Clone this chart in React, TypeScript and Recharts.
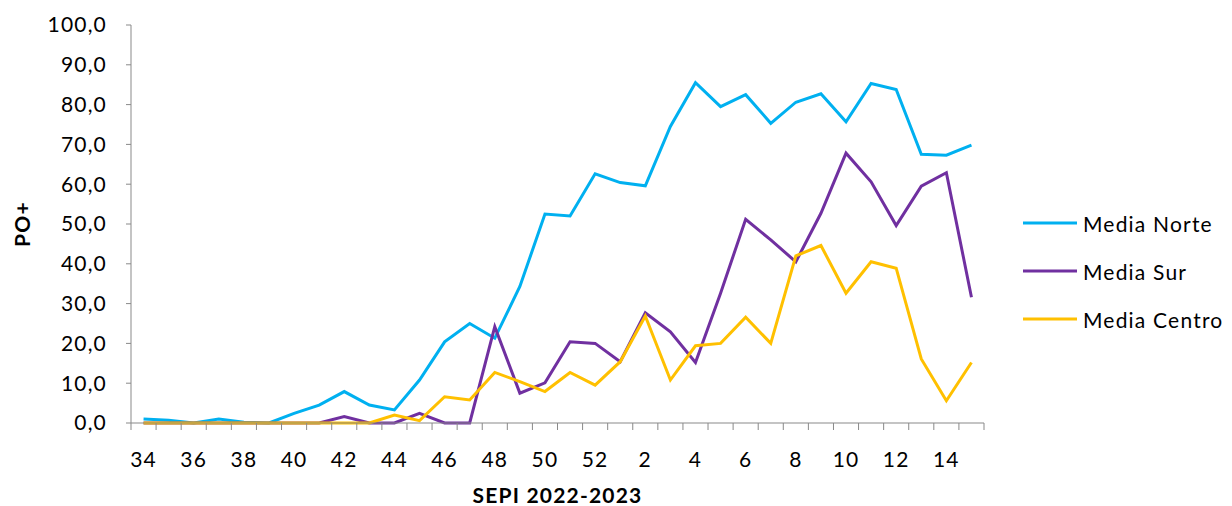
import React from 'react';
import { LineChart, Line, XAxis, YAxis, Legend } from 'recharts';

const weeks = [
  '34', '35', '36', '37', '38', '39', '40', '41', '42', '43', '44', '45', '46', '47', '48', '49', '50', '51', '52',
  '1', '2', '3', '4', '5', '6', '7', '8', '9', '10', '11', '12', '13', '14', '15',
];

const mediaNorte = [
  1.0, 0.7, 0.0, 1.0, 0.2, 0.0, 2.4, 4.5, 7.9, 4.5, 3.3, 10.8, 20.4, 25.0, 21.3, 34.3, 52.5, 52.0, 62.6,
  60.4, 59.6, 74.5, 85.5, 79.5, 82.5, 75.3, 80.6, 82.7, 75.7, 85.3, 83.8, 67.5, 67.3, 69.8,
];

const mediaSur = [
  0.0, 0.0, 0.0, 0.0, 0.0, 0.0, 0.0, 0.0, 1.6, 0.0, 0.0, 2.4, 0.0, 0.0, 24.2, 7.5, 10.1, 20.4, 20.0,
  15.4, 27.7, 22.9, 15.2, 32.6, 51.2, 46.0, 40.5, 52.7, 67.8, 60.6, 49.6, 59.5, 62.9, 31.6,
];

const mediaCentro = [
  0.0, 0.0, 0.0, 0.0, 0.0, 0.0, 0.0, 0.0, 0.0, 0.0, 2.0, 0.6, 6.6, 5.8, 12.7, 10.4, 7.9, 12.7, 9.5,
  15.4, 26.9, 10.8, 19.4, 20.0, 26.6, 20.0, 42.0, 44.6, 32.6, 40.5, 38.9, 16.1, 5.6, 15.2,
];

const yTicks = [0, 10, 20, 30, 40, 50, 60, 70, 80, 90, 100];

const seriesOrder = ['Media Norte', 'Media Sur', 'Media Centro'];

const data = weeks.map((w, i) => ({
  week: w,
  norte: mediaNorte[i],
  sur: mediaSur[i],
  centro: mediaCentro[i],
}));

const FONT = 'Lato, "Open Sans", sans-serif';
const FS = 21;
const LS = 1.2;
const AXIS_COLOR = '#898989';

const CHART_W = 1216;
const CHART_H = 498;
const Y_AXIS_W = 123;
const MARGIN_RIGHT = 240;
const LEGEND_W = 210;
const PLOT_W = CHART_W - Y_AXIS_W - MARGIN_RIGHT;
const HALF_BAND = PLOT_W / weeks.length / 2;

const XTick = (props: any) => {
  const { x, y, payload, index } = props;
  const last = index === weeks.length - 1;
  return (
    <g>
      <line x1={x - HALF_BAND} y1={y} x2={x - HALF_BAND} y2={y + 7} stroke={AXIS_COLOR} strokeWidth={1} />
      {last && (
        <line x1={x + HALF_BAND} y1={y} x2={x + HALF_BAND} y2={y + 7} stroke={AXIS_COLOR} strokeWidth={1} />
      )}
      {index % 2 === 0 && (
        <text x={x} y={y + 44} textAnchor="middle" fontSize={FS} letterSpacing={LS} fontFamily={FONT} fill="#000">
          {payload.value}
        </text>
      )}
    </g>
  );
};

const LegendContent = (props: any) => {
  const items = [...(props.payload || [])].sort(
    (a: any, b: any) => seriesOrder.indexOf(a.value) - seriesOrder.indexOf(b.value)
  );
  return (
    <div style={{ fontFamily: FONT, fontSize: FS, letterSpacing: LS, color: '#000' }}>
      {items.map((p: any) => (
        <div key={p.value} style={{ display: 'flex', alignItems: 'center', height: 48 }}>
          <svg width={54} height={6} style={{ marginRight: 6 }}>
            <line x1={0} y1={3} x2={54} y2={3} stroke={p.color} strokeWidth={3} />
          </svg>
          <span>{p.value}</span>
        </div>
      ))}
    </div>
  );
};

const App: React.FC = () => {
  return (
    <LineChart
      width={CHART_W}
      height={CHART_H}
      data={data}
      margin={{ top: 17, right: MARGIN_RIGHT - LEGEND_W, bottom: 8, left: 0 }}
    >
      <XAxis
        dataKey="week"
        interval={0}
        tickSize={0}
        tickMargin={0}
        tickLine={false}
        height={75}
        padding={{ left: HALF_BAND, right: HALF_BAND }}
        stroke={AXIS_COLOR}
        tick={<XTick />}
        label={{
          content: ({ viewBox }: any) => (
            <text
              x={viewBox.x + viewBox.width / 2}
              y={viewBox.y + 80}
              textAnchor="middle"
              fontSize={FS}
              letterSpacing={LS}
              fontWeight="bold"
              fontFamily={FONT}
              fill="#000"
            >
              SEPI 2022-2023
            </text>
          ),
        }}
      />
      <YAxis
        width={Y_AXIS_W}
        domain={[0, 100]}
        ticks={yTicks}
        interval={0}
        tickSize={5}
        tickMargin={19}
        stroke={AXIS_COLOR}
        tick={{ fontSize: FS, fontFamily: FONT, fill: '#000', letterSpacing: LS }}
        tickFormatter={(v: number) => v.toFixed(1).replace('.', ',')}
        label={{
          content: ({ viewBox }: any) => (
            <text
              x={13}
              y={viewBox.y + viewBox.height / 2}
              transform={`rotate(-90, 13, ${viewBox.y + viewBox.height / 2})`}
              textAnchor="middle"
              dominantBaseline="central"
              fontSize={FS}
              letterSpacing={LS}
              fontWeight="bold"
              fontFamily={FONT}
              fill="#000"
            >
              PO+
            </text>
          ),
        }}
      />
      <Legend
        layout="vertical"
        align="right"
        verticalAlign="middle"
        content={<LegendContent />}
        wrapperStyle={{ width: LEGEND_W, left: 1015, top: 191 }}
      />
      <Line name="Media Norte" dataKey="norte" stroke="#00B0F0" strokeWidth={3} dot={false} isAnimationActive={false} />
      <Line name="Media Sur" dataKey="sur" stroke="#7030A0" strokeWidth={3} dot={false} isAnimationActive={false} />
      <Line name="Media Centro" dataKey="centro" stroke="#FFC000" strokeWidth={3} dot={false} isAnimationActive={false} />
    </LineChart>
  );
};

export default App;
